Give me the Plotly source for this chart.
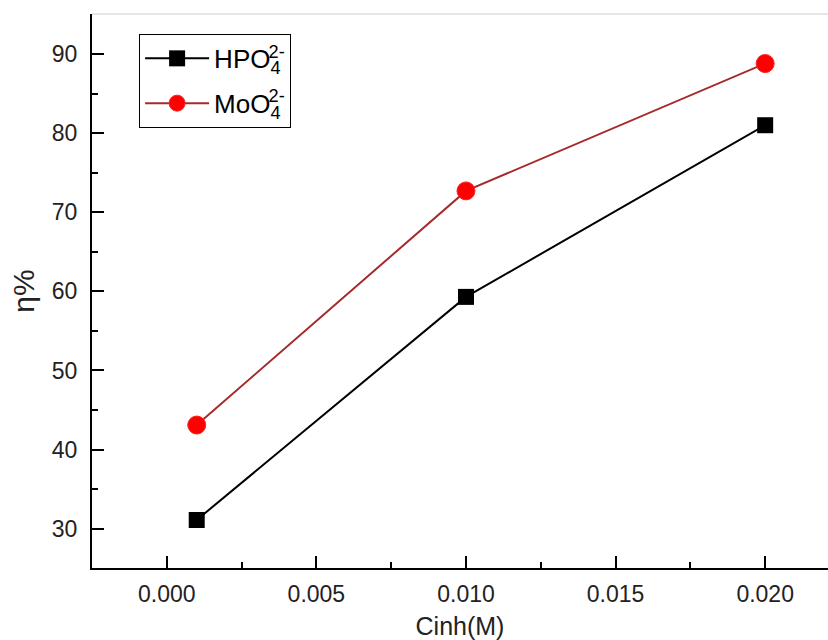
import plotly.graph_objects as go

# Data
conc = [0.001, 0.010, 0.020]
hpo4 = [31.1, 59.3, 81.0]
moo4 = [43.1, 72.7, 88.8]
name_hpo4 = "HPO<sub><span style=\"letter-spacing:-12px\">4</span></sub><sup>2-</sup>"
name_moo4 = "MoO<sub><span style=\"letter-spacing:-12px\">4</span></sub><sup>2-</sup>"
x_ticks = [0.000, 0.005, 0.010, 0.015, 0.020]
y_ticks = [30, 40, 50, 60, 70, 80, 90]

fig = go.Figure()
fig.add_trace(go.Scatter(
    x=conc, y=hpo4, name=name_hpo4, mode="lines+markers", legendgroup="a",
    line=dict(color="black", width=2),
    marker=dict(symbol="square", size=16, color="black"),
))
fig.add_trace(go.Scatter(
    x=conc, y=moo4, name=name_moo4, mode="lines+markers", legendgroup="b",
    line=dict(color="#A52A2A", width=2),
    marker=dict(symbol="circle", size=18, color="#FF0000",
                line=dict(color="#FF2020", width=1)),
))

axis_common = dict(
    showline=True, linecolor="black", linewidth=2,
    ticks="inside", ticklen=12, tickwidth=2, tickcolor="black",
    showgrid=False, zeroline=False,
    tickfont=dict(family="Arial", size=23, color="#222"),
)

fig.update_xaxes(
    range=[-0.0025, 0.0221], tickvals=x_ticks, tickformat=".3f",
    ticklabelstandoff=4,
    minor=dict(dtick=0.0025, tick0=0, ticks="inside", ticklen=6, tickwidth=2, tickcolor="black"),
    title=dict(text="Cinh(M)", font=dict(family="Arial", size=25, color="#222"), standoff=13),
    **axis_common,
)
fig.update_yaxes(
    range=[25.03, 95.06], tickvals=y_ticks,
    ticklabelstandoff=8,
    minor=dict(dtick=5, tick0=0, ticks="inside", ticklen=6, tickwidth=2, tickcolor="black"),
    title=dict(text="η%", font=dict(family="Arial", size=30, color="#222"), standoff=8),
    **axis_common,
)

fig.add_shape(type="line", xref="paper", yref="paper", x0=0, x1=1, y0=1, y1=1,
              line=dict(color="#cccccc", width=1))

fig.update_layout(
    width=828, height=640,
    margin=dict(l=92, r=0, t=14, b=72),
    paper_bgcolor="white", plot_bgcolor="white",
    showlegend=True,
    legend=dict(
        x=0.064, y=0.964, xanchor="left", yanchor="top",
        bgcolor="white", bordercolor="black", borderwidth=1,
        font=dict(family="Arial", size=26, color="black"),
        itemwidth=64, tracegroupgap=8,
    ),
)

fig.write_html("out.html")
